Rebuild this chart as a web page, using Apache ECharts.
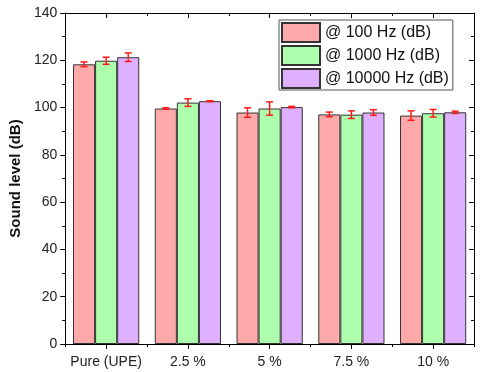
<!DOCTYPE html>
<html>
<head>
<meta charset="utf-8">
<script src="https://cdn.jsdelivr.net/npm/echarts@6/dist/echarts.min.js"></script>
<style>
  html, body { margin: 0; padding: 0; background: #fff; }
  #chart { width: 480px; height: 372px; }
</style>
</head>
<body>
<div id="chart"></div>
<script>
  const categories = ['Pure (UPE)', '2.5 %', '5 %', '7.5 %', '10 %'];
  const seriesNames = ['@ 100 Hz (dB)', '@ 1000 Hz (dB)', '@ 10000 Hz (dB)'];
  const hz100 = [118.3, 99.6, 97.9, 97.1, 96.6];
  const hz1000 = [119.8, 102.1, 99.6, 97.0, 97.6];
  const hz10000 = [121.3, 102.7, 100.2, 97.9, 98.0];
  const err100 = [1.0, 0.3, 2.0, 1.0, 2.0];
  const err1000 = [1.5, 1.6, 2.8, 1.6, 1.6];
  const err10000 = [1.8, 0.2, 0.3, 1.2, 0.5];
  const colors = ['#ffaaaa', '#adffad', '#dfb0ff'];

  const catGap = 0.19; // matches barCategoryGap below
  const values = [hz100, hz1000, hz10000];
  const errors = [err100, err1000, err10000];

  const chart = echarts.init(document.getElementById('chart'));

  // error bars drawn over the grouped bars
  function errorSeries(k) {
    return {
      type: 'custom',
      z: 10,
      data: categories.map((c, i) => [i, values[k][i], errors[k][i]]),
      renderItem: function (params, api) {
        const idx = api.value(0);
        const v = api.value(1);
        const e = api.value(2);
        const bandW = api.size([1, 0])[0];
        const barW = bandW * (1 - catGap) / 3;
        const x = api.coord([idx, v])[0] + (k - 1) * barW;
        const hi = api.coord([idx, v + e])[1];
        const lo = api.coord([idx, v - e])[1];
        const cap = 3.5;
        const style = { stroke: '#ff1a1a', lineWidth: 1.5 };
        return {
          type: 'group',
          children: [
            { type: 'line', shape: { x1: x, y1: hi, x2: x, y2: lo }, style: style },
            { type: 'line', shape: { x1: x - cap, y1: hi, x2: x + cap, y2: hi }, style: style },
            { type: 'line', shape: { x1: x - cap, y1: lo, x2: x + cap, y2: lo }, style: style }
          ]
        };
      },
      tooltip: { show: false }
    };
  }

  const frameX = (pos, inside, align, len) => ({
    type: 'category',
    data: categories,
    position: pos,
    axisLine: { show: true, lineStyle: { color: '#000', width: 1 } },
    axisTick: { show: true, interval: 0, inside: inside, alignWithLabel: align, length: len, lineStyle: { color: '#000' } },
    axisLabel: { show: false },
    splitLine: { show: false }
  });

  chart.setOption({
    animation: false,
    backgroundColor: '#fff',
    textStyle: { fontFamily: 'Liberation Sans, Arial, sans-serif' },
    grid: { left: 61, right: 6, top: 13, bottom: 28, containLabel: false },
    legend: {
      orient: 'vertical',
      left: 279,
      top: 20,
      padding: [2, 4, 1, 2],
      itemGap: 2,
      itemWidth: 38,
      itemHeight: 19,
      icon: 'rect',
      borderColor: '#555',
      borderWidth: 1,
      backgroundColor: '#fff',
      data: seriesNames,
      textStyle: { fontSize: 16, color: '#111' }
    },
    xAxis: [
      {
        type: 'category',
        data: categories,
        position: 'bottom',
        axisLine: { show: true, lineStyle: { color: '#000', width: 1 } },
        axisTick: { show: true, interval: 0, alignWithLabel: true, length: 5, lineStyle: { color: '#000' } },
        axisLabel: { interval: 0, fontSize: 14, color: '#222', margin: 11 },
        splitLine: { show: false }
      },
      frameX('bottom', false, false, 3),
      frameX('top', true, true, 5),
      frameX('top', true, false, 3)
    ],
    yAxis: [
      {
        type: 'value',
        min: 0,
        max: 140,
        interval: 20,
        name: 'Sound level (dB)',
        nameLocation: 'middle',
        nameGap: 35,
        nameTextStyle: { fontSize: 15, fontWeight: 'bold', color: '#111' },
        axisLine: { show: true, lineStyle: { color: '#000', width: 1 } },
        axisTick: { show: true, length: 5, lineStyle: { color: '#000' } },
        minorTick: { show: true, splitNumber: 2, length: 3, lineStyle: { color: '#000' } },
        axisLabel: { fontSize: 14, color: '#222', margin: 8 },
        splitLine: { show: false }
      },
      {
        type: 'value',
        min: 0,
        max: 140,
        interval: 20,
        position: 'right',
        axisLine: { show: true, lineStyle: { color: '#000', width: 1 } },
        axisTick: { show: true, inside: true, length: 5, lineStyle: { color: '#000' } },
        minorTick: { show: true, splitNumber: 2, length: 3, lineStyle: { color: '#000' } },
        axisLabel: { show: false },
        splitLine: { show: false }
      }
    ],
    series: seriesNames.map((name, k) => ({
      name: name,
      type: 'bar',
      data: values[k],
      barGap: '0%',
      barCategoryGap: '19%',
      itemStyle: { color: colors[k], borderColor: '#333', borderWidth: 1 }
    })).concat([0, 1, 2].map(errorSeries))
  });
</script>
</body>
</html>
